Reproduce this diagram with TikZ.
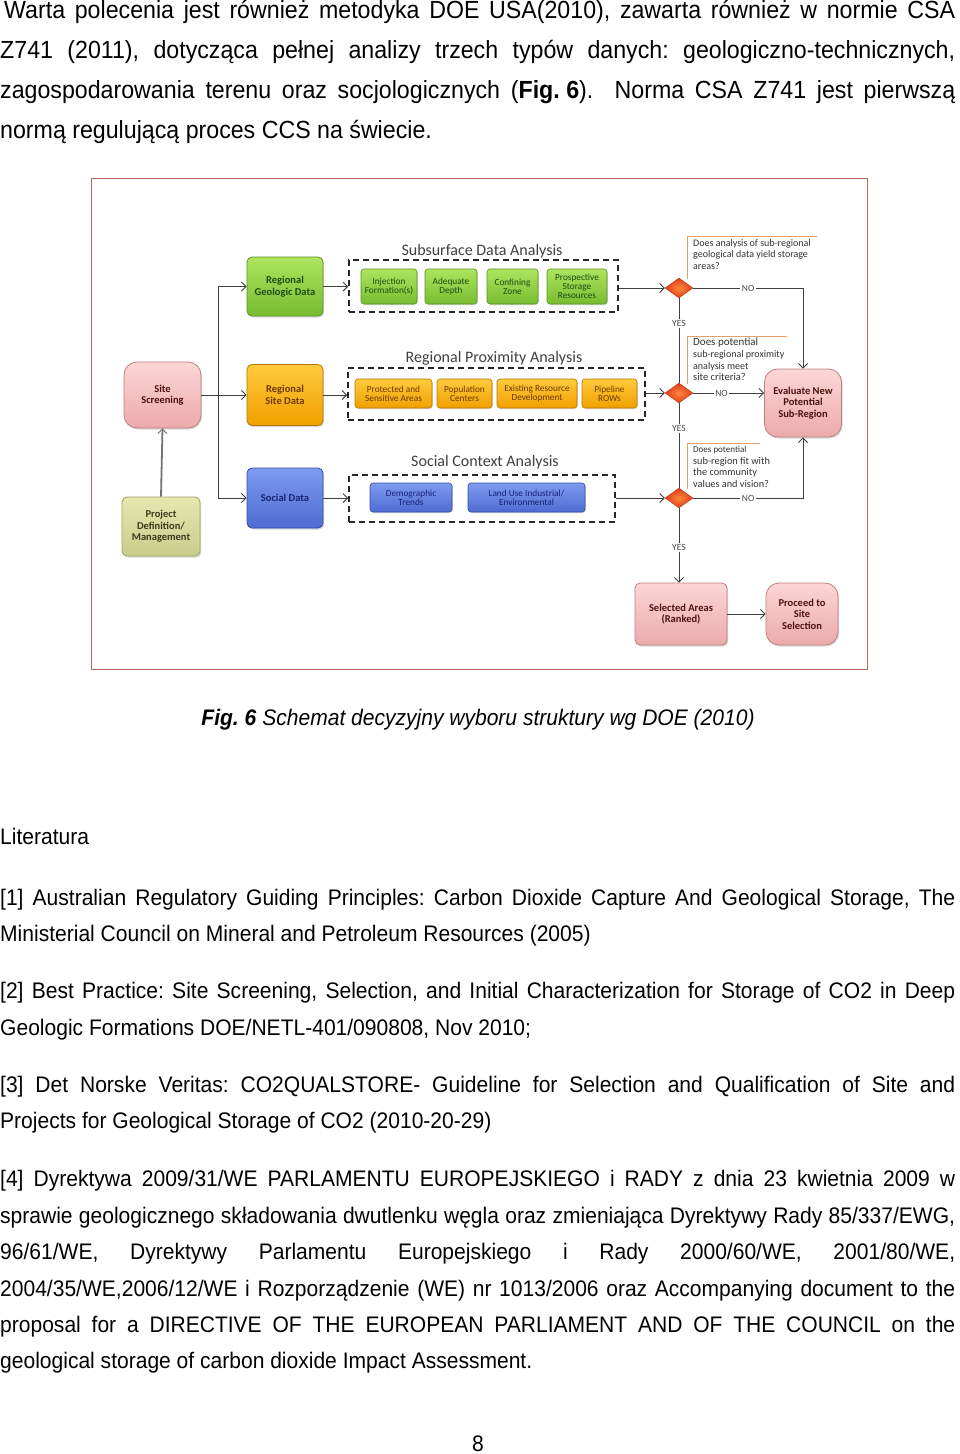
\documentclass[tikz,border=0pt]{standalone}
\usepackage{fontspec}
\setmainfont{Liberation Sans}[FakeStretch=0.935]
\newfontfamily\carlito{Carlito}
\usetikzlibrary{arrows.meta,shapes.geometric,shadows}
\frenchspacing
\definecolor{gtop}{RGB}{175,228,95}
\definecolor{gbot}{RGB}{118,188,48}
\definecolor{gdraw}{RGB}{88,148,38}
\definecolor{gtext}{RGB}{28,78,18}
\definecolor{otop}{RGB}{255,202,60}
\definecolor{obot}{RGB}{240,160,0}
\definecolor{odraw}{RGB}{185,118,0}
\definecolor{otext}{RGB}{110,58,0}
\definecolor{btop}{RGB}{125,155,238}
\definecolor{bbot}{RGB}{78,108,210}
\definecolor{bdraw}{RGB}{52,78,168}
\definecolor{btext}{RGB}{22,36,115}
\definecolor{ptop}{RGB}{252,214,214}
\definecolor{pbot}{RGB}{236,170,170}
\definecolor{pdraw}{RGB}{190,128,128}
\definecolor{ptext}{RGB}{78,18,18}
\definecolor{ytop}{RGB}{228,232,175}
\definecolor{ybot}{RGB}{200,205,140}
\definecolor{ydraw}{RGB}{158,163,98}
\definecolor{ytext}{RGB}{58,58,28}
\definecolor{framecol}{RGB}{180,100,100}
\definecolor{qcol}{RGB}{225,160,110}
\definecolor{dred}{RGB}{222,58,22}
\definecolor{dlight}{RGB}{255,135,60}
\newcommand\bodyfont{\frenchspacing\fontsize{22.5}{27}\selectfont}
\newcommand\topfont{\frenchspacing\fontsize{24.8}{29}\selectfont}
\newcommand\jline[1]{\makebox[955pt][s]{#1}}
\tikzset{
  body/.style={anchor=base west, inner sep=0pt, font=\bodyfont},
  topbody/.style={anchor=base west, inner sep=0pt, font=\topfont},
  dbox/.style={rectangle, rounded corners=5pt, align=center, inner sep=1pt,
    font=\carlito\bfseries\fontsize{10.5}{11.5}\selectfont,
    drop shadow={opacity=0.3,shadow xshift=1.2pt,shadow yshift=-1.5pt}, line width=0.8pt},
  barrel/.style={dbox, rounded corners=13pt},
  ibox/.style={rectangle, rounded corners=3pt, align=center, inner sep=0.5pt,
    font=\carlito\fontsize{9.3}{9.3}\selectfont,
    drop shadow={opacity=0.3,shadow xshift=0.8pt,shadow yshift=-1pt}, line width=0.6pt},
  gfill/.style={top color=gtop, bottom color=gbot, draw=gdraw, text=gtext},
  ofill/.style={top color=otop, bottom color=obot, draw=odraw, text=otext},
  bfill/.style={top color=btop, bottom color=bbot, draw=bdraw, text=btext},
  pfill/.style={top color=ptop, bottom color=pbot, draw=pdraw, text=ptext},
  yfill/.style={top color=ytop, bottom color=ybot, draw=ydraw, text=ytext},
  grp/.style={rectangle, draw=black!85, line width=1.5pt, dash pattern=on 6pt off 4pt, inner sep=0pt},
  ttl/.style={font=\carlito\fontsize{16}{16}\selectfont, text=black!75, inner sep=0pt},
  lin/.style={draw=black!75, line width=0.9pt},
  arr/.style={lin, -{Straight Barb[length=4.5pt,width=9pt,line width=0.9pt]}},
  dia/.style={diamond, inner sep=0pt, minimum width=28pt, minimum height=20pt,
    inner color=dlight, outer color=dred, draw=dred!80!black, line width=0.3pt},
  yn/.style={font=\carlito\fontsize{9.5}{9.5}\selectfont, text=black!70, fill=white, inner sep=1.5pt},
  q/.style={anchor=north west, align=left, inner sep=0pt, font=\carlito\fontsize{10}{11.6}\selectfont, text=black!80},
  qline/.style={draw=qcol, line width=1pt},
}
\begin{document}
\begin{tikzpicture}[x=1pt,y=-1pt]
\useasboundingbox (0,0) rectangle (960,1454);
\fill[white] (0,0) rectangle (960,1454);

% ---------- top paragraph ----------
\node[topbody] (p1) at (4,18) {\makebox[951pt][s]{Warta polecenia jest również metodyka DOE USA(2010), zawarta również w normie CSA}};
\node[topbody] (p2) at (0,58) {\jline{Z741 (2011), dotycząca pełnej analizy trzech typów danych: geologiczno-technicznych,}};
\node[topbody] (p3) at (0,98) {\jline{zagospodarowania terenu oraz socjologicznych (\mbox{\textbf{Fig. 6}}).\ \ Norma CSA Z741 jest pierwszą}};
\node[topbody] (p4) at (0,138) {normą regulującą proces CCS na świecie.};

% ---------- figure frame ----------
\node[draw=framecol, line width=1pt, minimum width=776, minimum height=491, inner sep=0pt] (frame) at (479,423.5) {};

% ---------- left column ----------
\node[barrel,pfill,minimum width=77,minimum height=66] (ss) at (162.5,395) {Site\\Screening};
\node[dbox,yfill,minimum width=78,minimum height=59] (pd) at (161,526.5) {Project\\Definition/\\Management};
\node[dbox,gfill,minimum width=76,minimum height=59] (rgd) at (285,286.5) {Regional\\Geologic Data};
\node[dbox,ofill,minimum width=76,minimum height=61] (rsd) at (285,395) {Regional\\Site Data};
\node[dbox,bfill,minimum width=76,minimum height=60] (sd) at (285,498) {Social Data};

% ---------- groups ----------
\node[grp,minimum width=269,minimum height=52] (g1) at (483.5,286) {};
\node[grp,minimum width=297,minimum height=52] (g2) at (496.5,394) {};
\node[grp,minimum width=266,minimum height=47] (g3) at (482,498.5) {};
\node[ttl] (t1) at (482,251) {Subsurface Data Analysis};
\node[ttl] (t2) at (494,358) {Regional Proximity Analysis};
\node[ttl] (t3) at (485,462) {Social Context Analysis};

\node[ibox,gfill,minimum width=56,minimum height=35] (i1) at (389,286.5) {Injection\\Formation(s)};
\node[ibox,gfill,minimum width=52,minimum height=35] (i2) at (451,286.5) {Adequate\\Depth};
\node[ibox,gfill,minimum width=51,minimum height=35] (i3) at (512.5,286.5) {Confining\\Zone};
\node[ibox,gfill,minimum width=60,minimum height=35] (i4) at (577,286.5) {Prospective\\Storage\\Resources};

\node[ibox,ofill,minimum width=77,minimum height=29] (o1) at (393.5,393.5) {Protected and\\Sensitive Areas};
\node[ibox,ofill,minimum width=55,minimum height=29] (o2) at (464.5,393.5) {Population\\Centers};
\node[ibox,ofill,minimum width=80,minimum height=29] (o3) at (537,393.5) {Existing Resource\\Development};
\node[ibox,ofill,minimum width=55,minimum height=29] (o4) at (609.5,393.5) {Pipeline\\ROWs};

\node[ibox,bfill,minimum width=82,minimum height=29] (b1) at (411,497.5) {Demographic\\Trends};
\node[ibox,bfill,minimum width=117,minimum height=29] (b2) at (526.5,497.5) {Land Use Industrial/\\Environmental};

% ---------- decisions ----------
\node[dia] (d1) at (679,288) {};
\node[dia] (d2) at (679,393) {};
\node[dia] (d3) at (679,498) {};

\node[q] (q1) at (693,239) {Does analysis of sub-regional\\geological data yield storage\\areas?};
\node[q] (q2) at (693,338) {{\fontsize{11}{11}\selectfont Does potential}\\sub-regional proximity\\analysis meet\\{\fontsize{10.5}{11}\selectfont site criteria?}};
\node[q] (q3) at (693,446) {{\fontsize{9}{11}\selectfont Does potential}\\{\fontsize{10.3}{11}\selectfont sub-region fit with}\\{\fontsize{10.3}{11}\selectfont the community}\\{\fontsize{10.3}{11}\selectfont values and vision?}};
\draw[qline] (817,236) -- (687,236) -- (687,279);
\draw[qline] (787,336) -- (687,336) -- (687,384);
\draw[qline] (760,443) -- (687,443) -- (687,489);

% ---------- right column ----------
\node[barrel,pfill,minimum width=77,minimum height=68] (ev) at (803,403) {Evaluate New\\Potential\\Sub-Region};
\node[dbox,pfill,minimum width=92,minimum height=62] (sel) at (681,614) {Selected Areas\\(Ranked)};
\node[barrel,pfill,minimum width=72,minimum height=62] (pr) at (802,614) {Proceed to\\Site\\Selection};

% ---------- connectors ----------
\coordinate (br) at (218,395);
\draw[arr] (ss.east) -- (rsd.west);
\draw[arr] (br) |- (rgd.west);
\draw[arr] (br) |- (sd.west);
\draw[arr, draw=black!55, line width=1.8pt] (pd.north) -- (ss.south);
\draw[arr] (rgd.east) -- (g1.west |- rgd.east);
\draw[arr] (rsd.east) -- (g2.west |- rsd.east);
\draw[arr] (sd.east) -- (g3.west |- sd.east);
\draw[arr] (g1.east |- d1.west) -- (d1.west);
\draw[arr] (g2.east |- d2.west) -- (d2.west);
\draw[arr] (g3.east |- d3.west) -- (d3.west);
\draw[lin] (d1.south) -- node[yn,pos=0.3] (y1) {YES} (d2.north);
\draw[lin] (d2.south) -- node[yn,pos=0.3] (y2) {YES} (d3.north);
\draw[arr] (d3.south) -- node[yn,pos=0.53] (y3) {YES} (d3.south |- sel.north);
\draw[arr] (d1.east) -| node[yn,pos=0.25] (n1) {NO} (ev.north);
\draw[arr] (d2.east) -- node[yn,pos=0.4] (n2) {NO} (d2.east -| ev.west);
\draw[arr] (d3.east) -| node[yn,pos=0.25] (n3) {NO} (ev.south);
\draw[arr] (sel.east) -- (pr.west);

% ---------- caption & references ----------
\node[anchor=base, inner sep=0pt, font=\bodyfont] (cap) at (478,725) {\textbf{\textit{Fig. 6}} \textit{Schemat decyzyjny wyboru struktury wg DOE (2010)}};
\node[body] (lit) at (0,844) {Literatura};
\node[body] (r1a) at (0,905) {\jline{[1] Australian Regulatory Guiding Principles: Carbon Dioxide Capture And Geological Storage, The}};
\node[body] (r1b) at (0,941) {Ministerial Council on Mineral and Petroleum Resources (2005)};
\node[body] (r2a) at (0,998) {\jline{[2] Best Practice: Site Screening, Selection, and Initial Characterization for Storage of CO2 in Deep}};
\node[body] (r2b) at (0,1035) {Geologic Formations DOE/NETL-401/090808, Nov 2010;};
\node[body] (r3a) at (0,1092) {\jline{[3] Det Norske Veritas: CO2QUALSTORE- Guideline for Selection and Qualification of Site and}};
\node[body] (r3b) at (0,1128) {Projects for Geological Storage of CO2 (2010-20-29)};
\node[body] (r4a) at (0,1186) {\jline{[4] Dyrektywa 2009/31/WE PARLAMENTU EUROPEJSKIEGO i RADY z dnia 23 kwietnia 2009 w}};
\node[body] (r4b) at (0,1223) {\jline{sprawie geologicznego składowania dwutlenku węgla oraz zmieniająca Dyrektywy Rady 85/337/EWG,}};
\node[body] (r4c) at (0,1259) {\jline{96/61/WE, Dyrektywy Parlamentu Europejskiego i Rady 2000/60/WE, 2001/80/WE,}};
\node[body] (r4d) at (0,1296) {\jline{2004/35/WE,2006/12/WE i Rozporządzenie (WE) nr 1013/2006 oraz Accompanying document to the}};
\node[body] (r4e) at (0,1332) {\jline{proposal for a DIRECTIVE OF THE EUROPEAN PARLIAMENT AND OF THE COUNCIL on the}};
\node[body] (r4f) at (0,1368) {geological storage of carbon dioxide Impact Assessment.};
\node[anchor=base, inner sep=0pt, font=\bodyfont] (pg) at (478,1451) {8};
\end{tikzpicture}
\end{document}
